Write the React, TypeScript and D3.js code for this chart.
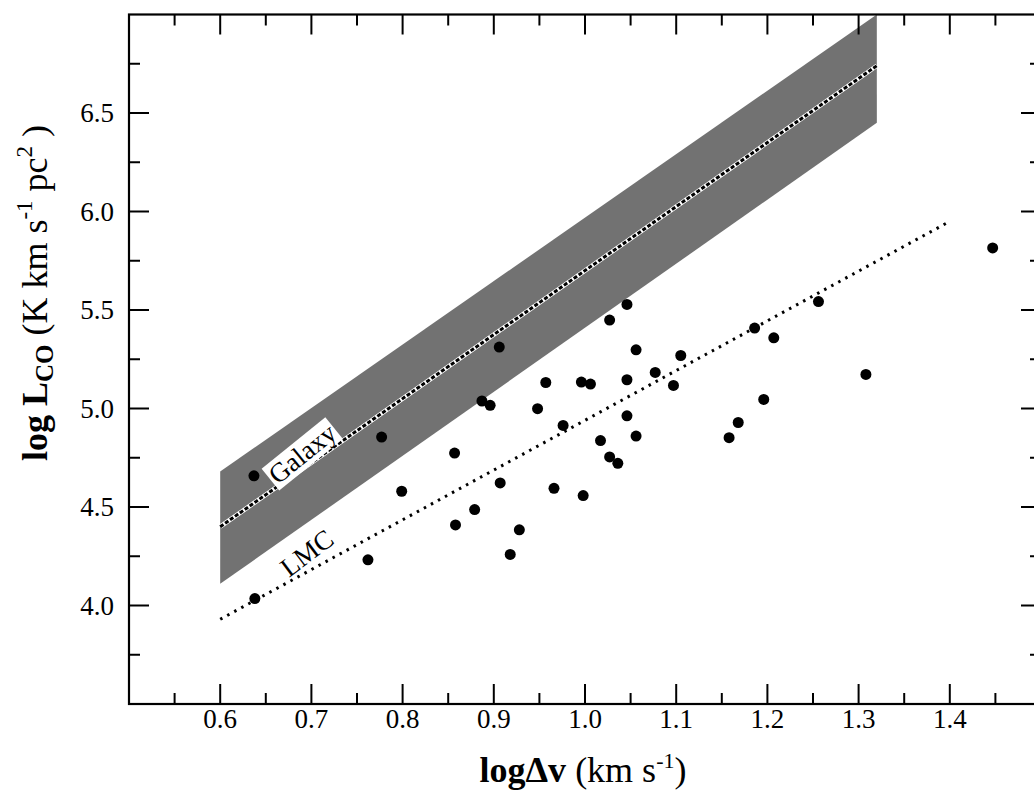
import React from "react";
import * as d3 from "d3";

// ---- data ----
const logDv: number[] = [
  1.046, 1.027, 1.056, 1.105, 0.906, 0.957, 0.996, 1.006, 1.046, 1.077,
  1.097, 0.887, 0.896, 0.948, 0.976, 1.046, 1.056, 1.017, 1.027, 1.036,
  0.857, 0.799, 0.907, 0.966, 0.998, 0.879, 0.858, 0.928, 0.918, 1.447,
  1.256, 1.186, 1.207, 1.308, 1.196, 1.168, 1.158, 0.637, 0.777, 0.762,
  0.638,
];
const logLco: number[] = [
  5.528, 5.449, 5.298, 5.269, 5.312, 5.132, 5.134, 5.124, 5.146, 5.183,
  5.117, 5.038, 5.016, 4.999, 4.914, 4.963, 4.860, 4.837, 4.754, 4.722,
  4.774, 4.580, 4.622, 4.595, 4.558, 4.487, 4.409, 4.384, 4.259, 5.815,
  5.543, 5.408, 5.359, 5.173, 5.046, 4.929, 4.852, 4.658, 4.855, 4.232,
  4.035,
];

// Galaxy relation band (x endpoints, centre line, upper and lower edges)
const galaxyX: number[] = [0.6, 1.32];
const galaxyCenter: number[] = [4.4, 6.74];
const galaxyUpper: number[] = [4.68, 7.0];
const galaxyLower: number[] = [4.11, 6.45];

// LMC relation
const lmcX: number[] = [0.6, 1.4];
const lmcY: number[] = [3.93, 5.95];

// axis ticks
const xTickLabels: number[] = [0.6, 0.7, 0.8, 0.9, 1.0, 1.1, 1.2, 1.3, 1.4];
const xMinorTicks: number[] = [0.55, 0.65, 0.75, 0.85, 0.95, 1.05, 1.15, 1.25, 1.35, 1.45];
const yTickLabels: number[] = [4.0, 4.5, 5.0, 5.5, 6.0, 6.5];
const yMinorTicks: number[] = [3.75, 4.25, 4.75, 5.25, 5.75, 6.25, 6.75];

const W = 1034;
const H = 793;
const FONT = "'Liberation Serif', 'Times New Roman', Times, serif";

export default function App() {
  const x = d3.scaleLinear().domain([0.5, 1.5]).range([129, 1041]);
  const y = d3.scaleLinear().domain([3.5, 7.0]).range([704, 14.5]);

  const left = x(0.5);
  const right = x(1.5);
  const top = y(7.0);
  const bottom = y(3.5);

  const bandIdx = galaxyX.map((_, i) => i);
  const area = d3
    .area<number>()
    .x((i) => x(galaxyX[i]))
    .y0((i) => y(galaxyLower[i]))
    .y1((i) => y(galaxyUpper[i]));
  const centerLine = d3
    .line<number>()
    .x((i) => x(galaxyX[i]))
    .y((i) => y(galaxyCenter[i]));
  const lmcLine = d3
    .line<number>()
    .x((i) => x(lmcX[i]))
    .y((i) => y(lmcY[i]));

  const major = 20;
  const minor = 11;

  const galaxyPos = [x(0.69), y(4.77)];
  const lmcPos = [x(0.695), y(4.266)];

  return (
    <div style={{ position: "absolute", left: 0, top: 0 }}>
      <svg width={W} height={H} style={{ display: "block", background: "#fff" }}>
        {/* Galaxy band */}
        <path d={area(bandIdx) || ""} fill="#727272" />
        <path d={centerLine(bandIdx) || ""} stroke="#fff" strokeWidth={4.5} fill="none" />
        <path
          d={centerLine(bandIdx) || ""}
          stroke="#000"
          strokeWidth={3}
          strokeDasharray="4,2"
          fill="none"
        />

        {/* LMC dotted line */}
        <path
          d={lmcLine(lmcX.map((_, i) => i)) || ""}
          stroke="#000"
          strokeWidth={3}
          strokeDasharray="2.5,5.5"
          fill="none"
        />

        {/* Labels */}
        <g transform={`translate(${galaxyPos[0]},${galaxyPos[1]}) rotate(-39)`}>
          <rect x={-41} y={-14} width={82} height={28} fill="#fff" />
          <text
            x={0}
            y={9}
            textAnchor="middle"
            fontFamily={FONT}
            fontSize={27}
            fill="#000"
          >
            Galaxy
          </text>
        </g>
        <g transform={`translate(${lmcPos[0]},${lmcPos[1]}) rotate(-37)`}>
          <text x={0} y={9} textAnchor="middle" fontFamily={FONT} fontSize={27} fill="#000">
            LMC
          </text>
        </g>

        {/* data points */}
        {logDv.map((v, i) => (
          <circle key={i} cx={x(v)} cy={y(logLco[i])} r={5.5} fill="#000" />
        ))}

        {/* frame */}
        <rect
          x={left}
          y={top}
          width={right - left}
          height={bottom - top}
          fill="none"
          stroke="#000"
          strokeWidth={2.2}
        />

        {/* x ticks bottom & top */}
        {xTickLabels.map((t) => (
          <g key={"xm" + t}>
            <line x1={x(t)} x2={x(t)} y1={bottom} y2={bottom - major} stroke="#000" strokeWidth={2} />
            <line x1={x(t)} x2={x(t)} y1={top} y2={top + major} stroke="#000" strokeWidth={2} />
            <text
              x={x(t)}
              y={bottom + 24}
              textAnchor="middle"
              fontFamily={FONT}
              fontSize={27}
              fill="#000"
            >
              {d3.format(".1f")(t)}
            </text>
          </g>
        ))}
        {xMinorTicks.map((t) => (
          <g key={"xn" + t}>
            <line x1={x(t)} x2={x(t)} y1={bottom} y2={bottom - minor} stroke="#000" strokeWidth={2} />
            <line x1={x(t)} x2={x(t)} y1={top} y2={top + minor} stroke="#000" strokeWidth={2} />
          </g>
        ))}

        {/* y ticks left & right */}
        {yTickLabels.map((t) => (
          <g key={"ym" + t}>
            <line x1={left} x2={left + major} y1={y(t)} y2={y(t)} stroke="#000" strokeWidth={2} />
            <line x1={right} x2={right - major} y1={y(t)} y2={y(t)} stroke="#000" strokeWidth={2} />
            <text
              x={left - 15}
              y={y(t) + 9}
              textAnchor="end"
              fontFamily={FONT}
              fontSize={27}
              fill="#000"
            >
              {d3.format(".1f")(t)}
            </text>
          </g>
        ))}
        {yMinorTicks.map((t) => (
          <g key={"yn" + t}>
            <line x1={left} x2={left + minor} y1={y(t)} y2={y(t)} stroke="#000" strokeWidth={2} />
            <line x1={right} x2={right - minor} y1={y(t)} y2={y(t)} stroke="#000" strokeWidth={2} />
          </g>
        ))}

        {/* x axis title */}
        <text x={583} y={782} textAnchor="middle" fontFamily={FONT} fontSize={36} fill="#000">
          <tspan fontWeight="bold">logΔv</tspan>
          <tspan> (km s</tspan>
          <tspan fontSize={22} dy={-14}>-1</tspan>
          <tspan dy={14}>)</tspan>
        </text>

        {/* y axis title */}
        <text
          transform="translate(47,293) rotate(-90)"
          x={0}
          y={0}
          textAnchor="middle"
          fontFamily={FONT}
          fontSize={36}
          fill="#000"
        >
          <tspan fontWeight="bold">log  L</tspan>
          <tspan fontWeight="bold" fontSize={25} dy={6}>CO</tspan>
          <tspan dy={-6}> (K km s</tspan>
          <tspan fontSize={23} dy={-15}>-1</tspan>
          <tspan dy={15}> pc</tspan>
          <tspan fontSize={23} dy={-15}>2</tspan>
          <tspan dy={15}> )</tspan>
        </text>
      </svg>
    </div>
  );
}
